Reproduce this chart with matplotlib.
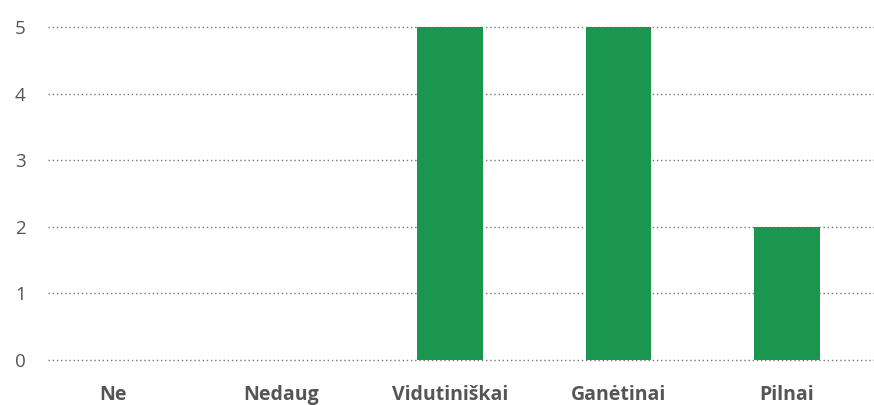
import matplotlib
matplotlib.use("Agg")
import matplotlib.pyplot as plt

categories = ["Ne", "Nedaug", "Vidutiniškai", "Ganėtinai", "Pilnai"]
values = [0, 0, 5, 5, 2]
yticks = [0, 1, 2, 3, 4, 5]

plt.rcParams['font.family'] = ['Open Sans', 'DejaVu Sans']

fig = plt.figure(figsize=(8.74, 4.05), dpi=100)
ax = fig.add_axes([48/874, 1-360/405, 1-48/874, 333/405])
x = list(range(len(categories)))
ax.bar(x, values, width=0.39, color="#1b9650", zorder=3)
ax.set_xlim(-0.386, 4.516)
ax.set_ylim(0, 5)
ax.set_yticks(yticks)
ax.set_xticks(x)
ax.set_xticklabels(categories, fontsize=14, fontweight="bold", color="#555555")
ax.tick_params(axis='x', length=0, pad=18)
ax.tick_params(axis='y', length=0, pad=16, labelsize=13.5, labelcolor="#555555")
ax.grid(axis='y', linestyle=(0, (1, 2)), color="#777777", linewidth=1.0, zorder=0)
for gl in ax.get_ygridlines():
    gl.set_clip_on(False)
for s in ax.spines.values():
    s.set_visible(False)
fig.savefig("out.png", dpi=100)
